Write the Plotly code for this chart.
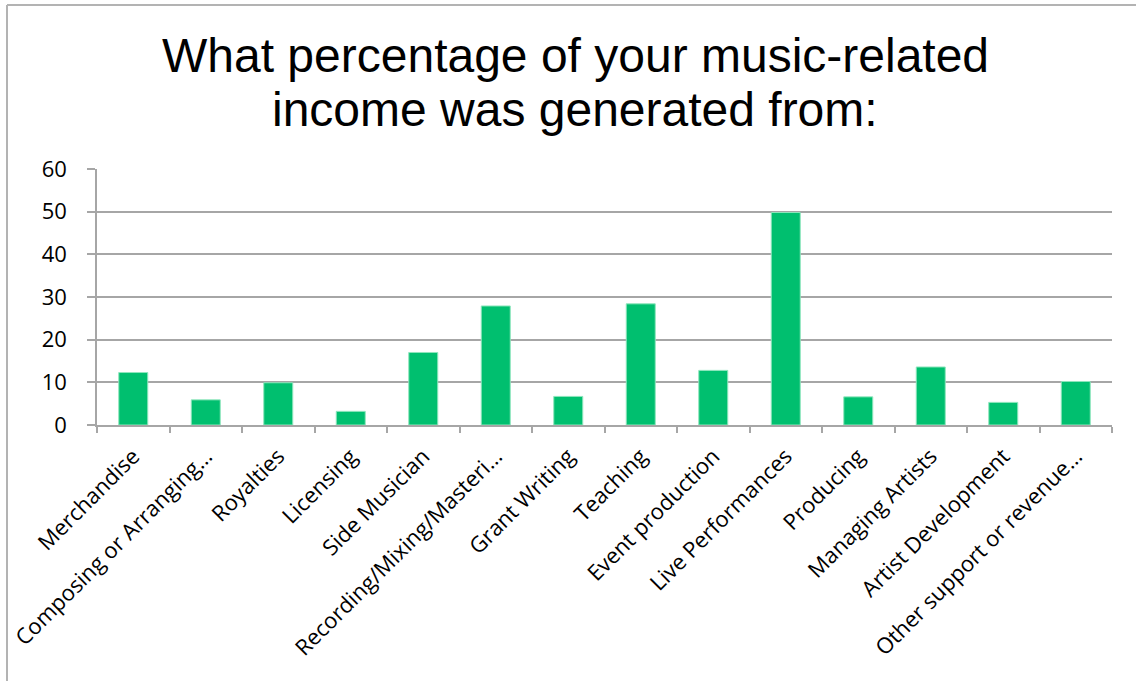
import plotly.graph_objects as go

# Income sources and the share of income each produced (%)
categories = [
    "Merchandise",
    "Composing or Arranging…",
    "Royalties",
    "Licensing",
    "Side Musician",
    "Recording/Mixing/Masteri…",
    "Grant Writing",
    "Teaching",
    "Event production",
    "Live Performances",
    "Producing",
    "Managing Artists",
    "Artist Development",
    "Other support or revenue…",
]
percentages = [12.3, 5.9, 9.9, 3.2, 17.0, 27.9, 6.7, 28.4, 12.8, 49.8, 6.6, 13.6, 5.3, 10.2]
y_ticks = [0, 10, 20, 30, 40, 50, 60]
title_lines = ["What percentage of your music-related", "income was generated from:"]

W, H = 1136, 681
L, R, T, B = 97, 24, 169, 256
plot_w = W - L - R
plot_h = H - T - B

GRID = "#a6a6a6"
LABEL_FONT = "Open Sans"
LABEL_SIZE = 22


def px_x(p):
    return (p - L) / plot_w


def px_y(p):
    return (H - B - p) / plot_h


fig = go.Figure(
    go.Bar(
        x=categories,
        y=percentages,
        marker=dict(color="#00BF6F", line=dict(color="#8fe6bd", width=1)),
        width=0.4,
        hoverinfo="x+y",
    )
)

# Outer frame of the chart (left and top edges are visible)
fig.add_shape(type="line", xref="paper", yref="paper",
              x0=px_x(7), x1=px_x(1136), y0=px_y(5), y1=px_y(5),
              line=dict(color="#b3b3b3", width=2))
fig.add_shape(type="line", xref="paper", yref="paper",
              x0=px_x(7), x1=px_x(7), y0=px_y(5), y1=px_y(690),
              line=dict(color="#b3b3b3", width=2))

# Two-line title, set as separate lines for tighter leading
for line, centre_px in zip(title_lines, [55, 109]):
    fig.add_annotation(
        text=line,
        xref="paper", yref="paper",
        x=px_x(W / 2 + 7), y=px_y(centre_px),
        xanchor="center", yanchor="middle",
        showarrow=False,
        font=dict(family="Liberation Sans, Arial", size=48, color="black"),
    )

fig.update_layout(
    width=W,
    height=H,
    margin=dict(l=L, r=R, t=T, b=B, autoexpand=False),
    paper_bgcolor="white",
    plot_bgcolor="white",
    showlegend=False,
    xaxis=dict(
        type="category",
        automargin=False,
        tickangle=-45,
        tickfont=dict(family=LABEL_FONT, size=LABEL_SIZE, color="black"),
        ticks="outside",
        tickson="boundaries",
        ticklen=6,
        tickcolor=GRID,
        tickwidth=1.5,
        showline=True,
        linecolor=GRID,
        linewidth=1.5,
        showgrid=False,
        ticklabelstandoff=8,
    ),
    yaxis=dict(
        automargin=False,
        range=[0, 60],
        tickvals=y_ticks,
        tickfont=dict(family=LABEL_FONT, size=LABEL_SIZE, color="black"),
        ticks="outside",
        ticklen=8,
        tickcolor=GRID,
        tickwidth=1.5,
        showline=True,
        linecolor=GRID,
        linewidth=1.5,
        showgrid=True,
        gridcolor=GRID,
        gridwidth=1.5,
        zeroline=False,
        ticklabelstandoff=16,
    ),
)

fig.write_html("out.html")
